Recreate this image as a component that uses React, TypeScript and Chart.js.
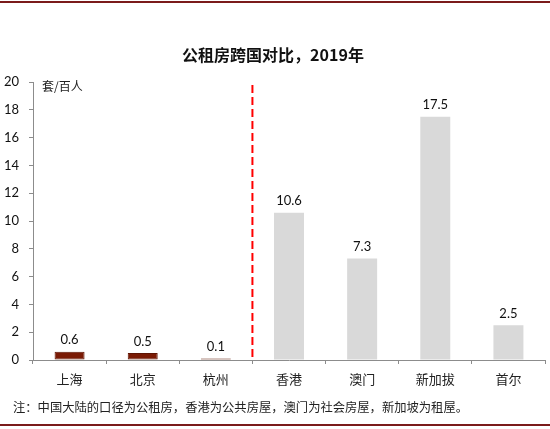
import React, { useEffect, useRef } from "react";
import { Chart, registerables } from "chart.js";

Chart.register(...registerables);

const categories = ["上海", "北京", "杭州", "香港", "澳门", "新加拔", "首尔"];
const values = [0.6, 0.5, 0.1, 10.6, 7.3, 17.5, 2.5];
const valueLabels = ["0.6", "0.5", "0.1", "10.6", "7.3", "17.5", "2.5"];
const barColors = ["#7A1A04", "#7A1A04", "#7A1A04", "#D9D9D9", "#D9D9D9", "#D9D9D9", "#D9D9D9"];
const barBorderColors = ["#5E1403", "#5E1403", "#5E1403", "#D9D9D9", "#D9D9D9", "#D9D9D9", "#D9D9D9"];
const titleText = "公租房跨国对比，2019年";
const unitText = "套/百人";
const noteText = "注：中国大陆的口径为公租房，香港为公共房屋，澳门为社会房屋，新加坡为租屋。";
const yMin = 0;
const yMax = 20;
const yStep = 2;

const NUM_FONT = "Lato, 'Noto Sans CJK SC', sans-serif";
const CJK_FONT = "'Noto Sans CJK SC', sans-serif";

const decorPlugin = {
  id: "decor",
  afterDraw(chart: any) {
    const ctx = chart.ctx;
    const xs = chart.scales.x;
    const ys = chart.scales.y;
    ctx.save();
    // borders
    ctx.fillStyle = "#7B1B1B";
    ctx.fillRect(0, 1, 550, 2);
    ctx.fillRect(0, 424, 550, 2);
    // title
    ctx.fillStyle = "#111";
    ctx.textAlign = "center";
    ctx.textBaseline = "middle";
    ctx.font = "bold 16px " + CJK_FONT;
    ctx.fillText(titleText, 273, 55);
    // unit
    ctx.textAlign = "left";
    ctx.font = "12px " + CJK_FONT;
    ctx.fillStyle = "#222";
    ctx.fillText(unitText, 42, 86);
    // note
    ctx.font = "12.3px " + CJK_FONT;
    ctx.fillText(noteText, 13, 407);
    // dashed separator
    const sx = (xs.getPixelForValue(2) + xs.getPixelForValue(3)) / 2;
    ctx.strokeStyle = "#FF0000";
    ctx.lineWidth = 2;
    ctx.setLineDash([8, 4]);
    ctx.beginPath();
    ctx.moveTo(sx, 85);
    ctx.lineTo(sx, ys.getPixelForValue(0));
    ctx.stroke();
    ctx.setLineDash([]);
    // value labels
    const meta = chart.getDatasetMeta(0);
    ctx.textAlign = "center";
    ctx.textBaseline = "bottom";
    ctx.font = "13px " + NUM_FONT;
    ctx.fillStyle = "#111";
    meta.data.forEach((bar: any, i: number) => {
      ctx.fillText(valueLabels[i], bar.x, bar.y - 5);
    });
    ctx.restore();
  },
};

export default function App() {
  const ref = useRef<HTMLCanvasElement>(null);
  useEffect(() => {
    if (!ref.current) return;
    const chart = new Chart(ref.current, {
      type: "bar",
      data: {
        labels: categories,
        datasets: [
          {
            data: values,
            backgroundColor: barColors,
            borderColor: barBorderColors,
            borderWidth: [1, 1, 1, 0, 0, 0, 0],
            borderSkipped: false,
            barPercentage: 0.41,
            categoryPercentage: 1,
          },
        ],
      },
      options: {
        animation: false,
        responsive: false,
        maintainAspectRatio: false,
        devicePixelRatio: 1,
        layout: { padding: { left: 0, right: 5, top: 82, bottom: 0 } },
        plugins: {
          legend: { display: false },
          tooltip: { enabled: false },
          title: { display: false },
        },
        scales: {
          x: {
            grid: {
              display: true,
              drawOnChartArea: false,
              drawTicks: true,
              tickLength: 4,
              color: "#8C8C8C",
              offset: true,
            },
            border: { display: true, color: "#8C8C8C", width: 1 },
            ticks: {
              padding: 7,
              color: "#222",
              font: { family: CJK_FONT, size: 13 },
              maxRotation: 0,
            },
            afterFit(scale: any) {
              scale.height = 69;
            },
          },
          y: {
            min: yMin,
            max: yMax,
            grid: {
              display: true,
              drawOnChartArea: false,
              drawTicks: true,
              tickLength: 4,
              color: "#8C8C8C",
            },
            border: { display: true, color: "#8C8C8C", width: 1 },
            ticks: {
              stepSize: yStep,
              padding: 10,
              color: "#111",
              font: { family: NUM_FONT, size: 13 },
            },
            afterFit(scale: any) {
              scale.width = 33;
            },
          },
        },
      },
      plugins: [decorPlugin],
    });
    return () => chart.destroy();
  }, []);
  return (
    <div style={{ position: "absolute", left: 0, top: 0, width: 550, height: 429, background: "#fff" }}>
      <canvas ref={ref} width={550} height={429} style={{ width: 550, height: 429, display: "block" }} />
    </div>
  );
}
